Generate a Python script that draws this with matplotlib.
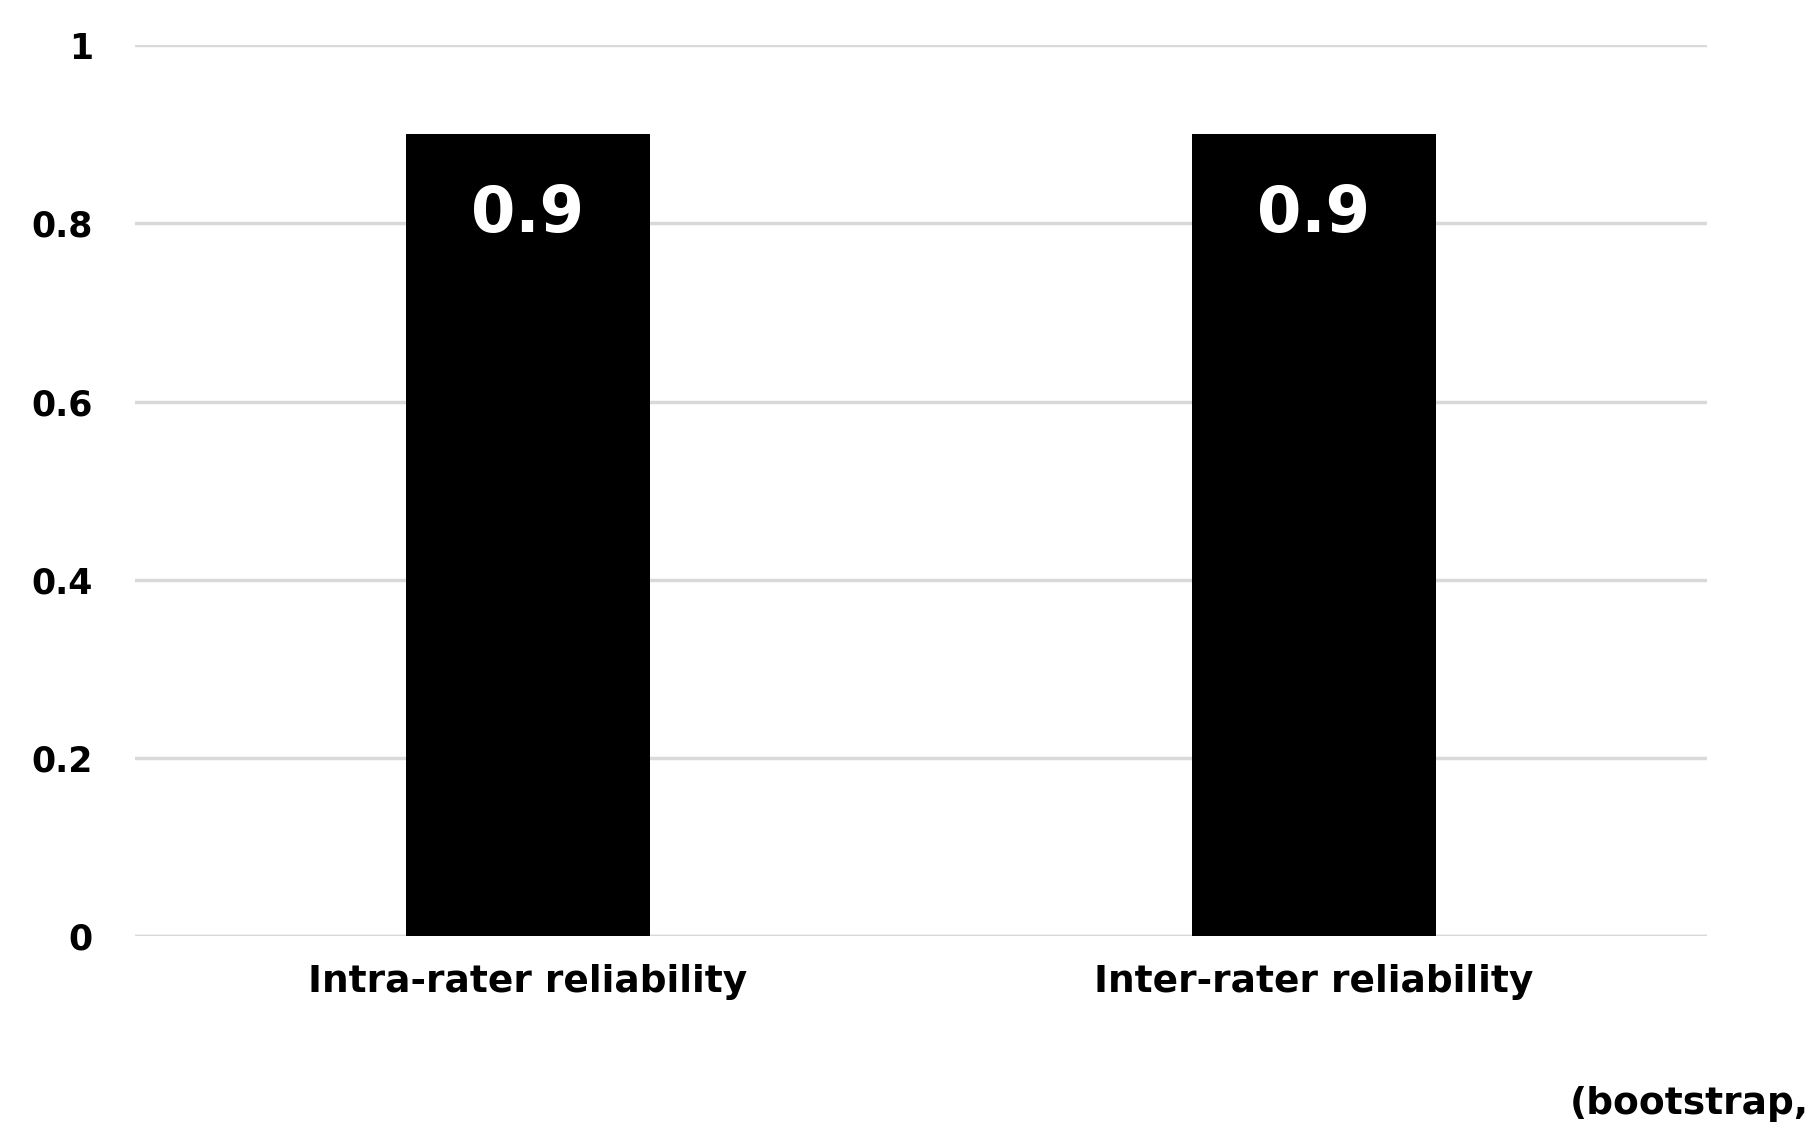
import matplotlib
matplotlib.use("Agg")
import matplotlib.pyplot as plt

categories = ["Intra-rater reliability", "Inter-rater reliability"]
values = [0.9, 0.9]
labels = ["0.9", "0.9"]
yticks = [0, 0.2, 0.4, 0.6, 0.8, 1]
ytick_labels = ["0", "0.2", "0.4", "0.6", "0.8", "1"]

plt.rcParams['font.family'] = ['DejaVu Sans']
fig = plt.figure(figsize=(18.18, 11.28), dpi=100)
ax = fig.add_axes([0.074, 0.17, 0.865, 0.79])
x = list(range(len(categories)))
ax.bar(x, values, width=0.31, color="black", zorder=3)
for xi, v, l in zip(x, values, labels):
    ax.text(xi, v - 0.09, l, ha="center", va="center", color="white",
            fontsize=46, fontweight="bold", zorder=4)
ax.set_xlim(-0.5, 1.5)
ax.set_ylim(0, 1)
ax.set_yticks(yticks)
ax.set_yticklabels(ytick_labels, fontsize=25, fontweight="bold")
ax.set_xticks(x)
ax.set_xticklabels(categories, fontsize=27, fontweight="bold")
ax.yaxis.grid(True, color="#d9d9d9", linewidth=2.5, zorder=0)
ax.tick_params(length=0, pad=30, axis="y")
ax.tick_params(length=0, pad=20, axis="x")
for s in ax.spines.values():
    s.set_visible(False)
ax.axhline(0, color="#d9d9d9", linewidth=2.5, zorder=1)
fig.text(0.995, 0.005, "(bootstrap,", ha="right", va="bottom",
         fontsize=27, fontweight="bold")
fig.savefig("out.png", dpi=100, facecolor="white")
